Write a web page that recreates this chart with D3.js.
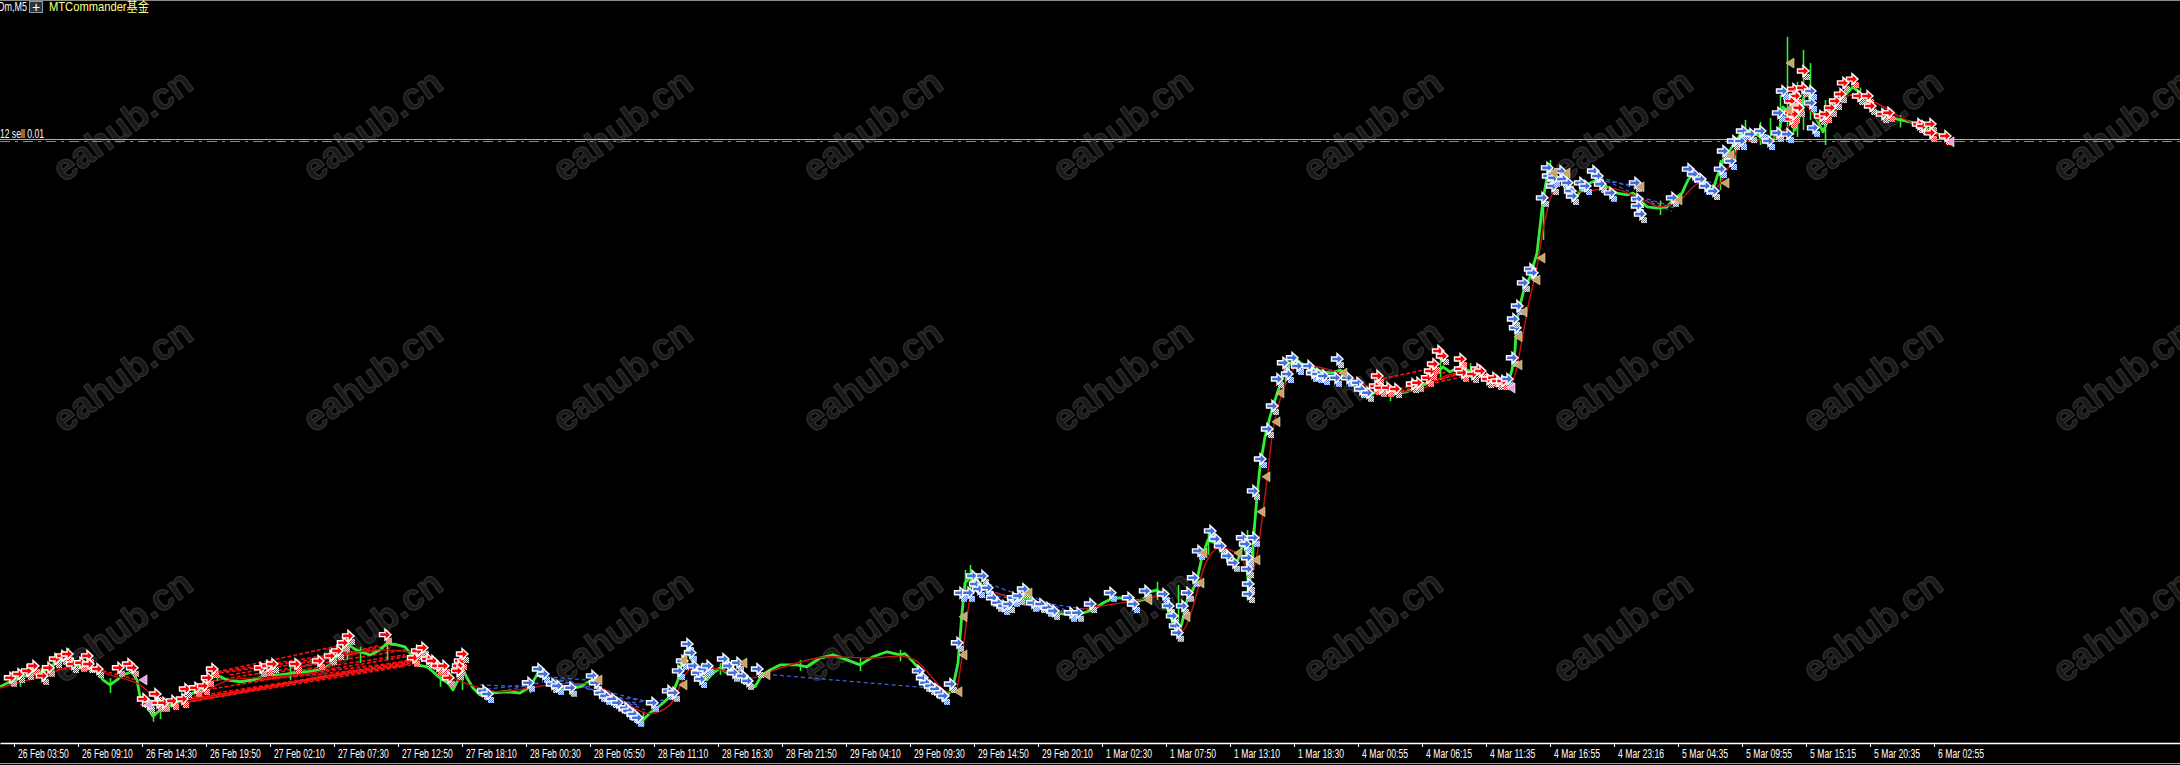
<!DOCTYPE html>
<html><head><meta charset="utf-8">
<script src="https://cdn.jsdelivr.net/npm/d3@7/dist/d3.min.js"></script>
<style>html,body{margin:0;padding:0;background:#000;overflow:hidden}</style>
</head><body><svg id="c" width="2180" height="765"></svg>
<script>
// ---------- DATA (bar index of M5 chart, price) ----------
const tickBars = [14,78,142,206,270,334,398,462,526,590,654,718,782,846,910,974,1038,1102,1166,1230,1294,1358,1422,1486,1550,1614,1678,1742,1806,1870,1934];
const tickLabels = ["26 Feb 03:50","26 Feb 09:10","26 Feb 14:30","26 Feb 19:50","27 Feb 02:10","27 Feb 07:30","27 Feb 12:50","27 Feb 18:10","28 Feb 00:30","28 Feb 05:50","28 Feb 11:10","28 Feb 16:30","28 Feb 21:50","29 Feb 04:10","29 Feb 09:30","29 Feb 14:50","29 Feb 20:10","1 Mar 02:30","1 Mar 07:50","1 Mar 13:10","1 Mar 18:30","4 Mar 00:55","4 Mar 06:15","4 Mar 11:35","4 Mar 16:55","4 Mar 23:16","5 Mar 04:35","5 Mar 09:55","5 Mar 15:15","5 Mar 20:35","6 Mar 02:55"];

const closeSeries = [[0,2032.1],[10,2032.9],[20,2033.5],[33,2034.3],[43,2034.5],[53,2035.6],[63,2036.4],[68,2037.5],[72,2036.4],[80,2035.1],[90,2035.3],[97,2034.5],[103,2033.2],[110,2032.4],[117,2033.2],[123,2034.0],[132,2034.5],[137,2033.2],[140,2030.5],[147,2028.9],[153,2027.4],[158,2028.1],[163,2028.9],[173,2029.2],[182,2030.0],[193,2031.1],[203,2031.9],[210,2033.7],[217,2034.0],[227,2033.2],[240,2032.9],[253,2033.2],[267,2034.0],[280,2034.0],[293,2034.3],[307,2034.5],[320,2034.8],[330,2035.6],[340,2037.5],[347,2039.1],[353,2038.3],[360,2037.7],[370,2037.2],[380,2038.0],[387,2039.1],[397,2038.8],[405,2038.5],[410,2037.5],[417,2035.6],[427,2035.3],[433,2034.5],[440,2033.5],[448,2032.7],[453,2031.6],[458,2033.2],[462,2035.3],[467,2033.5],[473,2031.9],[480,2030.8],
[490,2031.1],[507,2031.3],[520,2031.1],[530,2032.1],[538,2034.3],[547,2033.2],[557,2032.1],[570,2031.9],[580,2032.1],[592,2033.2],[598,2031.6],[607,2030.0],[617,2029.2],[627,2028.1],[637,2027.1],[643,2026.8],[650,2027.9],[657,2028.7],[663,2029.5],[672,2030.8],[678,2033.2],[682,2036.4],[687,2038.0],[693,2035.9],[700,2033.7],[707,2033.2],[713,2034.3],[720,2035.1],[727,2034.3],[737,2034.0],[747,2032.9],[755,2032.1],[762,2034.0],[770,2034.8],[780,2035.6],[797,2035.6],[807,2035.3],[820,2036.7],[833,2037.2],[847,2036.4],[860,2035.6],[873,2036.9],[887,2037.7],[900,2037.2],
[905,2037.4],[913,2036.1],[920,2034.8],[927,2033.2],[933,2032.1],[943,2031.1],[948,2030.8],[953,2032.1],[958,2035.9],[962,2043.9],[965,2048.7],[970,2049.7],[977,2049.2],[983,2048.1],[990,2046.5],[997,2045.7],[1007,2045.5],[1017,2046.0],[1027,2046.3],[1037,2045.2],[1047,2044.4],[1057,2043.9],[1070,2043.6],[1083,2043.9],[1093,2044.4],[1103,2045.5],[1113,2046.3],[1123,2046.3],[1133,2045.7],[1143,2046.0],[1150,2047.3],[1157,2047.6],[1163,2046.5],[1168,2044.4],[1173,2042.3],[1178,2040.4],[1182,2042.3],[1187,2046.0],[1192,2047.3],[1197,2049.2],[1202,2052.9],[1208,2055.6],[1215,2055.1],[1223,2053.5],[1232,2051.9],[1238,2052.4],[1243,2055.1],[1246,2053.7],[1249,2047.6],[1252,2052.4],[1255,2058.8],[1257,2062.5],
[1260,2067.3],[1265,2072.1],[1270,2075.3],[1275,2078.0],[1280,2080.4],[1285,2082.8],[1290,2083.9],[1297,2084.4],[1303,2083.6],[1313,2083.1],[1323,2082.5],[1333,2082.3],[1340,2082.8],[1350,2081.7],[1360,2080.4],[1370,2078.8],[1377,2079.3],[1387,2079.1],[1397,2079.1],[1407,2079.3],[1417,2079.9],[1427,2080.7],[1437,2082.3],[1443,2083.3],[1450,2082.5],[1460,2083.3],[1467,2082.8],[1473,2082.3],[1483,2081.7],[1493,2081.2],[1503,2080.9],[1508,2080.7],[1512,2082.8],[1515,2086.0],
[1517,2090.8],[1520,2093.2],[1524,2095.6],[1530,2097.7],[1537,2101.5],[1540,2105.7],[1543,2110.0],[1547,2113.7],[1550,2115.1],[1557,2113.7],[1563,2113.2],[1570,2111.1],[1575,2110.0],[1582,2111.9],[1590,2112.7],[1597,2113.2],[1607,2112.1],[1617,2111.1],[1627,2110.8],[1633,2111.1],[1640,2110.0],[1647,2108.9],[1657,2108.7],[1667,2108.9],[1673,2110.0],[1682,2111.1],[1688,2113.2],[1693,2114.3],[1700,2113.2],[1707,2112.1],[1713,2111.6],[1717,2113.7],[1723,2116.4],[1730,2118.0],[1740,2120.4],
[1750,2121.2],[1760,2120.1],[1767,2119.1],[1773,2119.6],[1780,2121.7],[1783,2124.9],[1786,2124.4],[1790,2122.8],[1795,2121.2],[1800,2123.6],[1803,2126.0],[1807,2127.6],[1813,2124.4],[1817,2122.8],[1823,2120.9],[1830,2123.6],[1840,2126.0],[1847,2127.1],[1853,2128.1],[1860,2127.1],[1867,2125.5],[1873,2124.4],[1882,2123.9],[1890,2123.3],[1900,2122.8],[1910,2122.5],[1920,2121.7],[1930,2121.2],[1940,2120.4],[1945,2119.9]];

// bar, high, low
const wicks = [[20,2034.3,2032.1],[53,2036.4,2034.5],[68,2038.3,2035.1],[110,2033.5,2031.1],[153,2029.2,2026.5],[160,2029.5,2026.9],[217,2034.8,2033.0],[290,2035.3,2033.2],[347,2039.9,2036.4],[360,2038.5,2035.9],[387,2039.9,2036.4],[440,2034.5,2032.1],[462,2036.1,2031.6],[530,2033.0,2031.1],[570,2032.9,2030.8],[643,2028.1,2025.7],[720,2035.9,2034.0],[800,2036.4,2034.6],[860,2036.7,2034.6],[900,2038.0,2036.2],[965,2050.8,2046.0],[970,2051.6,2047.6],[1030,2047.0,2045.2],[1157,2048.9,2046.0],[1178,2048.4,2039.3],[1208,2057.2,2053.2],[1247,2057.2,2046.0],[1253,2057.5,2050.8],[1285,2084.4,2080.4],[1390,2080.1,2077.8],[1440,2085.2,2081.2],[1470,2083.9,2081.5],[1543,2110.8,2103.6],[1550,2116.4,2112.4],[1600,2113.9,2111.6],[1660,2109.9,2107.6],[1720,2116.4,2111.6],[1735,2119.9,2116.4],[1745,2122.8,2118.8],[1760,2122.5,2118.8],[1770,2123.1,2118.3],[1780,2126.8,2120.9],[1787,2136.1,2119.6],[1793,2126.8,2120.4],[1797,2128.9,2120.1],[1803,2134.0,2121.2],[1810,2131.9,2122.8],[1825,2126.0,2118.8],[1860,2128.0,2125.6],[1900,2123.6,2121.6]];

const maSeries = [[0,2031.9],[40,2033.7],[80,2035.6],[110,2034.0],[140,2032.4],[160,2030.0],[190,2030.3],[230,2033.2],[280,2033.8],[320,2034.6],[345,2037.2],[380,2038.0],[410,2037.7],[440,2034.5],[470,2032.4],[500,2031.3],[530,2031.9],[560,2032.6],[590,2032.6],[620,2030.0],[650,2027.8],[670,2029.2],[690,2034.8],[710,2035.1],[750,2033.5],[780,2035.1],[830,2036.9],[870,2036.7],[900,2037.0],[915,2036.4],[930,2034.0],[948,2031.3],[955,2031.3],[963,2038.0],[968,2044.4],[975,2047.9],[990,2047.3],[1020,2046.0],[1060,2044.1],[1100,2045.0],[1140,2046.0],[1160,2046.6],[1175,2042.8],[1183,2041.2],[1192,2044.4],[1205,2051.6],[1220,2054.3],[1240,2053.2],[1250,2050.0],[1256,2052.4],[1262,2058.8],[1267,2065.2],[1273,2073.2],[1280,2078.0],[1287,2081.2],[1300,2083.6],[1330,2082.8],[1360,2080.9],[1380,2079.1],[1420,2079.6],[1440,2081.5],[1470,2082.5],[1500,2081.2],[1510,2080.4],[1515,2082.0],[1522,2087.6],[1528,2092.9],[1537,2099.3],[1543,2105.2],[1550,2110.0],[1560,2112.4],[1580,2111.3],[1610,2111.9],[1640,2110.3],[1660,2108.9],[1680,2110.0],[1700,2112.7],[1715,2111.9],[1730,2115.6],[1745,2119.6],[1765,2119.6],[1790,2122.0],[1805,2125.2],[1820,2122.5],[1835,2124.1],[1850,2126.8],[1870,2126.0],[1900,2123.3],[1945,2119.9]];

const sellMarks = [[10,2032.9],[18,2033.5],[27,2034.0],[33,2034.8],[42,2033.2],[48,2034.5],[55,2035.9],[62,2036.4],[67,2036.7],[72,2035.1],[80,2035.3],[87,2036.4],[88,2035.1],[97,2034.3],[118,2034.5],[128,2035.1],[132,2034.5],[143,2029.5],[148,2028.7],[155,2030.3],[157,2028.9],[163,2028.9],[172,2029.2],[182,2029.5],[185,2031.1],[195,2031.3],[203,2031.6],[207,2032.9],[212,2034.3],[260,2034.5],[267,2034.8],[272,2035.1],[295,2035.1],[318,2035.6],[330,2036.4],[337,2037.2],[343,2038.5],[348,2039.6],[385,2039.8],[413,2036.1],[417,2037.2],[422,2037.7],[427,2035.9],[432,2035.6],[437,2034.8],[443,2034.8],[448,2032.9],[460,2035.6],[462,2036.7],[458,2034.8],[457,2034.0],
[1377,2081.2],[1375,2079.6],[1380,2079.3],[1387,2079.3],[1395,2079.1],[1412,2079.9],[1417,2080.1],[1427,2080.9],[1430,2082.0],[1433,2083.1],[1438,2085.2],[1442,2084.4],[1460,2083.9],[1460,2082.3],[1462,2081.7],[1472,2081.5],[1477,2082.3],[1480,2082.0],[1487,2080.7],[1493,2080.9],[1497,2080.4],[1502,2080.4],
[1790,2122.3],[1793,2127.1],[1795,2126.0],[1790,2125.2],[1797,2124.4],[1790,2123.3],[1802,2127.3],[1803,2130.0],[1798,2124.1],[1793,2123.1],[1820,2122.8],[1825,2123.1],[1830,2124.1],[1835,2125.2],[1840,2126.3],[1843,2128.1],[1852,2128.7],[1858,2126.0],[1867,2126.0],[1870,2124.4],[1882,2123.1],[1888,2123.3],[1918,2121.5],[1922,2121.2],[1930,2121.5],[1930,2120.1],[1945,2119.6]];

const buyMarks = [[483,2030.8],[487,2030.3],[528,2032.1],[538,2034.3],[543,2033.5],[552,2031.9],[557,2031.6],[570,2031.3],[592,2033.2],[595,2032.1],[600,2030.5],[605,2030.0],[612,2029.5],[617,2028.9],[625,2028.1],[628,2027.6],[633,2027.1],[637,2026.5],[652,2028.9],[668,2030.8],[673,2030.5],[678,2034.0],[682,2035.6],[687,2038.3],[690,2036.9],[693,2034.8],[697,2033.7],[700,2032.7],[703,2034.3],[707,2034.8],[723,2035.9],[728,2034.8],[733,2033.7],[737,2035.3],[742,2033.2],[747,2032.4],[757,2034.3],
[918,2034.0],[922,2032.9],[925,2032.1],[930,2031.6],[935,2031.1],[940,2030.5],[943,2030.0],[950,2031.9],[957,2038.5],[960,2046.5],[968,2046.5],[972,2049.2],[975,2047.9],[978,2047.1],[982,2049.2],[987,2047.3],[992,2045.7],[997,2044.9],[1003,2044.4],[1008,2044.7],[1013,2045.7],[1018,2046.0],[1023,2047.1],[1032,2044.9],[1040,2044.7],[1047,2044.1],[1053,2043.6],[1070,2043.3],[1077,2043.3],[1090,2044.7],[1110,2046.5],[1128,2045.7],[1133,2044.7],[1145,2046.8],[1163,2046.3],[1168,2044.4],[1172,2042.8],[1175,2041.2],[1177,2040.1],[1182,2044.4],[1187,2046.5],[1193,2048.9],[1198,2053.2],[1210,2056.4],[1215,2055.1],[1220,2054.0],[1227,2052.4],[1233,2051.3],[1242,2055.3],[1245,2054.3],[1247,2052.1],[1247,2050.3],[1248,2047.9],[1248,2046.3],[1253,2055.3],[1253,2062.8],[1260,2067.9],[1267,2072.7],[1272,2076.4],[1277,2080.7],[1283,2083.3],[1287,2081.5],[1292,2084.1],[1297,2082.8],[1308,2082.8],[1312,2081.7],[1317,2081.5],[1323,2081.2],[1335,2080.9],[1337,2083.9],[1347,2080.9],[1357,2080.1],[1360,2079.1],[1367,2078.5],
[1507,2080.7],[1512,2084.1],[1515,2088.9],[1513,2090.3],[1517,2092.4],[1523,2096.1],[1530,2098.3],[1532,2097.7],[1542,2109.7],[1547,2114.5],[1548,2113.2],[1552,2111.6],[1553,2112.9],[1560,2114.0],[1562,2112.7],[1567,2112.1],[1570,2110.8],[1572,2110.0],[1580,2112.1],[1585,2111.6],[1593,2114.0],[1597,2113.2],[1600,2111.9],[1610,2110.5],[1635,2112.1],[1637,2109.5],[1637,2108.4],[1640,2107.1],[1672,2109.7],[1688,2114.3],[1693,2113.5],[1700,2112.7],[1705,2111.6],[1713,2110.8],[1720,2114.3],[1723,2117.2],[1730,2115.6],[1733,2118.8],[1740,2118.8],[1742,2120.4],[1750,2119.9],[1760,2120.4],[1768,2118.8],[1777,2120.1],[1782,2126.8],[1778,2123.3],[1787,2119.9],[1810,2126.8],[1810,2124.9],[1813,2120.9]];

const closeTriangles = [[595,2033.2],[680,2036.4],[680,2032.4],[740,2035.9],[763,2034.0],[955,2031.3],[960,2043.3],[960,2037.2],[1025,2047.1],[1145,2046.0],[1183,2043.3],[1197,2048.7],[1200,2053.5],[1235,2053.5],[1253,2052.4],[1258,2060.1],[1263,2065.7],[1273,2074.5],[1277,2079.1],[1340,2082.3],[1515,2083.6],[1515,2088.1],[1520,2092.1],[1533,2097.2],[1538,2100.7],[1550,2114.3],[1563,2114.3],[1637,2112.1],[1675,2110.0],[1722,2112.7],[1727,2117.2],[1787,2131.9],[1785,2124.4]];
const pinkTriangles = [[140,2033.2],[145,2029.2],[1508,2079.9],[1947,2119.3]];

// trade links: [openBar, openPrice, closeBar, closePrice]
const sellLinks = [[147,2028.9,410,2036.1],[163,2028.9,410,2036.4],[182,2029.5,413,2036.1],[195,2031.3,417,2037.2],[207,2032.9,405,2038.0],[212,2034.3,395,2038.8],[220,2034.3,390,2038.3],[230,2034.0,380,2038.0],[240,2032.9,413,2035.6],[255,2033.2,420,2036.4],[270,2034.0,380,2038.8],[290,2034.5,405,2037.2],[140,2029.2,410,2035.9],[150,2028.7,405,2035.4],[155,2029.2,408,2035.7],[217,2034.5,343,2038.8],[10,2032.9,48,2034.5],[18,2033.5,67,2036.7],[33,2034.8,88,2035.1],[62,2036.4,137,2033.2],
[1387,2079.3,1457,2082.0],[1395,2079.1,1460,2082.3],[1412,2079.9,1462,2081.7],[1430,2082.0,1460,2082.8],[1377,2081.2,1433,2083.1]];
const buyLinks = [[480,2032.4,528,2032.1],[480,2031.6,538,2032.6],[487,2030.8,543,2032.9],[540,2033.8,600,2033.0],[545,2033.5,612,2031.3],[552,2033.5,625,2030.0],[560,2033.2,637,2029.2],[570,2033.0,645,2028.4],[600,2031.6,660,2029.2],[612,2030.5,665,2029.5],[625,2029.5,668,2030.0],[773,2034.0,930,2031.9],
[975,2048.0,1077,2043.6],[982,2049.0,1070,2043.8],[990,2047.5,1053,2044.0],[997,2046.6,1090,2044.4],[1008,2045.6,1077,2043.8],[1023,2047.1,1070,2044.1],[1128,2045.7,1145,2046.4],[1160,2047.0,1172,2043.0],
[1300,2083.3,1340,2082.6],[1310,2082.8,1340,2082.3],[1320,2082.5,1340,2081.7],[1290,2083.6,1335,2082.0],
[1593,2114.0,1635,2111.9],[1600,2113.5,1637,2110.8],[1605,2113.0,1637,2112.3],[1640,2110.5,1672,2109.0],[1645,2110.0,1672,2108.2],[1650,2109.8,1675,2108.7],[1700,2113.2,1720,2112.5]];

const bidPrice = 2119.8, orderPrice = 2119.5;
const orderLabel = "#3512 sell 0.01";
const symbolLabel = "XAUUSDm,M5";
const eaLabel = "MTCommander基金";
const watermark = "eahub.cn";

// ---------- DRAW ----------
const W = 2180, H = 765, AXIS_Y = 743;
const svg = d3.select("#c");
const x = d3.scaleLinear().domain([0, 2180]).range([0, W]);
const y = d3.scaleLinear().domain([2023.1, 2142]).range([AXIS_Y, 0]);
const FONT = "'Liberation Sans',Arial,sans-serif";
const SX = 0.72; // horizontal compression to mimic the narrow terminal font

svg.append("rect").attr("width", W).attr("height", H).attr("fill", "#000");

// patterns
const defs = svg.append("defs");
[["chkRed","#ff1010"],["chkBlue","#4a78e0"]].forEach(([id,c])=>{
  const p = defs.append("pattern").attr("id", id).attr("width", 2).attr("height", 2).attr("patternUnits","userSpaceOnUse");
  p.append("rect").attr("width",2).attr("height",2).attr("fill",c);
  p.append("rect").attr("width",1).attr("height",1).attr("fill","#fff");
  p.append("rect").attr("x",1).attr("y",1).attr("width",1).attr("height",1).attr("fill","#fff");
});

// watermark
const wm = svg.append("g");
for (let r = 0; r < 3; r++) for (let k = 0; k < 9; k++) {
  wm.append("text").attr("transform", `translate(${122 + 250*k},${125 + 250.5*r}) rotate(-36)`)
    .attr("text-anchor","middle").attr("dy","0.35em")
    .attr("font-family",FONT).attr("font-weight","bold").attr("font-size",37)
    .attr("fill","#191919").attr("stroke","#303030").attr("stroke-width",1.2).text(watermark);
}

// bid & order lines
const by = Math.round(y(bidPrice)) + 0.5, oy = Math.round(y(orderPrice)) + 0.5;
svg.append("line").attr("x1",0).attr("x2",W).attr("y1",by).attr("y2",by).attr("stroke","#a8b0bc").attr("stroke-width",1);
svg.append("line").attr("x1",0).attr("x2",W).attr("y1",oy).attr("y2",oy)
  .attr("stroke","#4caf50").attr("stroke-width",1).attr("stroke-dasharray","10,5,3,5");
svg.append("text").attr("transform",`translate(44,${by-2}) scale(${SX},1)`).attr("text-anchor","end")
  .attr("font-family",FONT).attr("font-size",12).attr("fill","#fff").text(orderLabel);

// links
const linkG = svg.append("g");
linkG.selectAll(".sl").data(sellLinks).join("line")
  .attr("x1",d=>x(d[0])).attr("y1",d=>y(d[1])).attr("x2",d=>x(d[2])).attr("y2",d=>y(d[3]))
  .attr("stroke","#ff1010").attr("stroke-width",1.6).attr("stroke-dasharray","4,2");
linkG.selectAll(".bl").data(buyLinks).join("line")
  .attr("x1",d=>x(d[0])).attr("y1",d=>y(d[1])).attr("x2",d=>x(d[2])).attr("y2",d=>y(d[3]))
  .attr("stroke","#4060e0").attr("stroke-width",1.2).attr("stroke-dasharray","4,3");

// price (green) with wicks
svg.append("g").selectAll("line").data(wicks).join("line")
  .attr("x1",d=>x(d[0])+0.5).attr("x2",d=>x(d[0])+0.5).attr("y1",d=>y(d[1])).attr("y2",d=>y(d[2]))
  .attr("stroke","#33ee33").attr("stroke-width",1.6);
svg.append("path").datum(closeSeries)
  .attr("d", d3.line().x(d=>x(d[0])).y(d=>y(d[1])))
  .attr("fill","none").attr("stroke","#33ee33").attr("stroke-width",2.8).attr("stroke-linejoin","round");

// MA red
svg.append("path").datum(maSeries)
  .attr("d", d3.line().curve(d3.curveMonotoneX).x(d=>x(d[0])).y(d=>y(d[1])))
  .attr("fill","none").attr("stroke","#d01010").attr("stroke-width",1.4);

// markers
const arrowPath = "M-5.5,-2L0,-2L0,-5.5L6,0L0,5.5L0,2L-5.5,2Z";
function drawArrows(data, color, chk) {
  const g = svg.append("g");
  const m = g.selectAll("g").data(data).join("g").attr("transform", d=>`translate(${x(d[0])},${y(d[1])-4})`);
  m.append("rect").attr("x",1).attr("y",3).attr("width",6).attr("height",6).attr("fill",`url(#${chk})`);
  m.append("path").attr("d",arrowPath).attr("fill",color).attr("stroke","#fff").attr("stroke-width",1.4).attr("stroke-linejoin","miter");
}
drawArrows(sellMarks, "#ff0000", "chkRed");
drawArrows(buyMarks, "#3f6fe0", "chkBlue");

svg.append("g").selectAll("path").data(closeTriangles).join("path")
  .attr("transform", d=>`translate(${x(d[0])+3},${y(d[1])})`)
  .attr("d","M4,-5L4,5L-4,0Z").attr("fill","#c9a46a").attr("stroke","#e8d0a0").attr("stroke-width",0.6);
svg.append("g").selectAll("path").data(pinkTriangles).join("path")
  .attr("transform", d=>`translate(${x(d[0])+3},${y(d[1])})`)
  .attr("d","M4,-5L4,5L-4,0Z").attr("fill","#e6a0e6").attr("stroke","#fff").attr("stroke-width",0.6);

// header
svg.append("line").attr("x1",0).attr("x2",W).attr("y1",0.5).attr("y2",0.5).attr("stroke","#8a8a8a");
svg.append("text").attr("transform",`translate(27,11) scale(${SX},1)`).attr("text-anchor","end").attr("font-family",FONT)
  .attr("font-size",12.5).attr("fill","#fff").text(symbolLabel);
svg.append("rect").attr("x",29.5).attr("y",1.5).attr("width",13).attr("height",11).attr("fill","#2a3440").attr("stroke","#8c9cb0");
svg.append("text").attr("x",36).attr("y",11.5).attr("text-anchor","middle").attr("font-family",FONT)
  .attr("font-size",14).attr("fill","#fff").text("+");
svg.append("text").attr("transform",`translate(49,11) scale(0.86,1)`).attr("font-family",FONT+",'Noto Sans CJK SC'")
  .attr("font-size",13).attr("fill","#ffff80").text(eaLabel);

// x axis
const axis = d3.axisBottom(x).tickValues(tickBars).tickFormat((d,i)=>tickLabels[i]).tickSize(4).tickSizeOuter(0);
const ag = svg.append("g").attr("transform",`translate(0,${AXIS_Y})`).call(axis);
ag.select(".domain").attr("stroke","#fff").attr("stroke-width",1.5);
ag.selectAll(".tick line").attr("stroke","#fff");
ag.selectAll(".tick text").attr("fill","#fff").attr("text-anchor","start")
  .attr("transform",`scale(${SX},1)`).attr("x",3.5/SX).attr("y",6)
  .attr("font-family",FONT).attr("font-size",12);
svg.append("line").attr("x1",0).attr("x2",W).attr("y1",763.5).attr("y2",763.5).attr("stroke","#9a9a9a");
</script></body></html>
